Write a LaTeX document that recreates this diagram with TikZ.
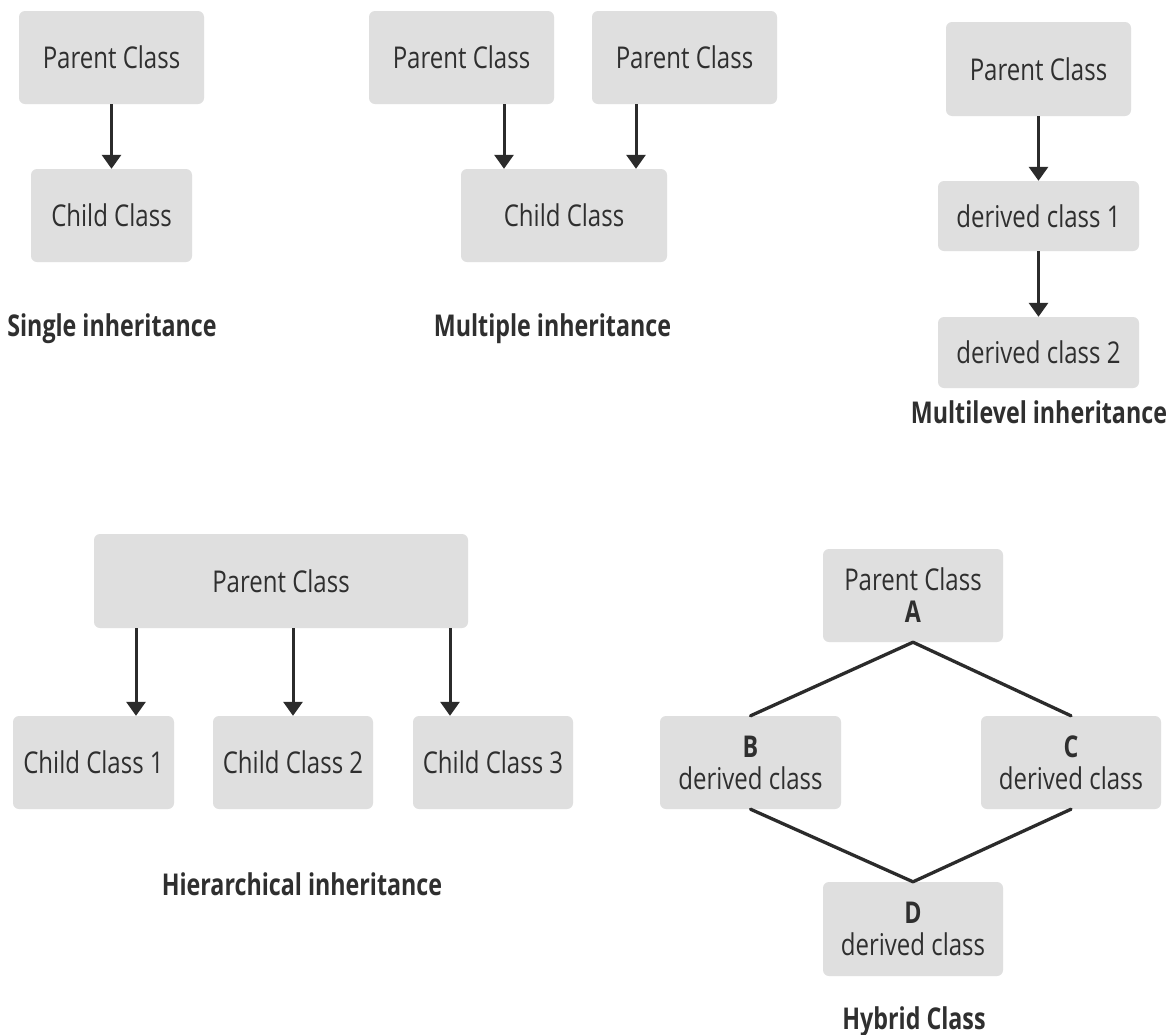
\documentclass[tikz,border=0pt]{standalone}
\usepackage{fontspec}
\setmainfont{Open Sans}[FakeStretch=0.80, BoldFeatures={FakeStretch=0.775}]
\usetikzlibrary{arrows.meta}
\definecolor{boxfill}{HTML}{DFDFDF}
\definecolor{txt}{HTML}{2F2F2F}
\definecolor{ink}{HTML}{2B2B2B}
\tikzset{
  box/.style={rectangle, rounded corners=6pt, fill=boxfill, inner sep=0pt,
    text=txt, align=center, font=\fontsize{30}{32}\selectfont},
  lab/.style={inner sep=0pt, text=txt, font=\fontsize{30}{32}\selectfont\bfseries},
  arr/.style={draw=ink, line width=3pt, -{Triangle[width=19pt,length=14pt]}},
  link/.style={draw=ink, line width=3.3pt, line cap=round},
}
\begin{document}
\begin{tikzpicture}[x=1pt,y=-1pt]
\useasboundingbox[fill=white] (0,0) rectangle (1173,1034);
% Single
\node[box, minimum width=185pt, minimum height=93pt] (sp) at (111.5,57.5) {Parent Class};
\node[box, minimum width=161pt, minimum height=93pt] (sc) at (111.5,215.5) {Child Class};
\draw[arr] (sp.south) -- (sc.north);
\node[lab, anchor=base] (l1) at (112,336) {Single inheritance};
% Multiple
\node[box, minimum width=185pt, minimum height=93pt] (mp1) at (461.5,57.5) {Parent Class};
\node[box, minimum width=185pt, minimum height=93pt] (mp2) at (684.5,57.5) {Parent Class};
\node[box, minimum width=206pt, minimum height=93pt] (mc) at (564,215.5) {Child Class};
\draw[arr] ([xshift=42.5pt]mp1.south) -- ([xshift=42.5pt]mp1.south |- mc.north);
\draw[arr] ([xshift=-48.5pt]mp2.south) -- ([xshift=-48.5pt]mp2.south |- mc.north);
\node[lab, anchor=base] (l2) at (552.5,336) {Multiple inheritance};
% Multilevel
\node[box, minimum width=185pt, minimum height=94pt] (ml0) at (1038.5,69) {Parent Class};
\node[box, minimum width=201pt, minimum height=70pt] (ml1) at (1038.5,216) {derived class 1};
\node[box, minimum width=201pt, minimum height=71pt] (ml2) at (1038.5,352.5) {derived class 2};
\draw[arr] (ml0.south) -- (ml1.north);
\draw[arr] (ml1.south) -- (ml2.north);
\node[lab, anchor=base] (l3) at (1039,423) {Multilevel inheritance};
% Hierarchical
\node[box, minimum width=374pt, minimum height=94pt] (hp) at (281,581) {Parent Class};
\node[box, minimum width=161pt, minimum height=93pt] (hc1) at (93.5,762.5) {Child Class 1};
\node[box, minimum width=160pt, minimum height=93pt] (hc2) at (293,762.5) {Child Class 2};
\node[box, minimum width=160pt, minimum height=93pt] (hc3) at (493,762.5) {Child Class 3};
\draw[arr] ([xshift=-145pt]hp.south) -- ([xshift=-145pt]hp.south |- hc1.north);
\draw[arr] ([xshift=12pt]hp.south) -- ([xshift=12pt]hp.south |- hc2.north);
\draw[arr] ([xshift=169pt]hp.south) -- ([xshift=169pt]hp.south |- hc3.north);
\node[lab, anchor=base] (l4) at (302,895) {Hierarchical inheritance};
% Hybrid
\node[box, minimum width=180pt, minimum height=93pt] (ya) at (913,595.5) {Parent Class\\\bfseries A};
\node[box, minimum width=181pt, minimum height=93pt] (yb) at (750.5,762.5) {\bfseries B\\derived class};
\node[box, minimum width=180pt, minimum height=93pt] (yc) at (1071,762.5) {\bfseries C\\derived class};
\node[box, minimum width=180pt, minimum height=94pt] (yd) at (913,929) {\bfseries D\\derived class};
\draw[link] (ya.south) -- (yb.north);
\draw[link] (ya.south) -- (yc.north);
\draw[link] (yb.south) -- (yd.north);
\draw[link] (yc.south) -- (yd.north);
\node[lab, anchor=base] (l5) at (914,1029) {Hybrid Class};
\end{tikzpicture}
\end{document}
